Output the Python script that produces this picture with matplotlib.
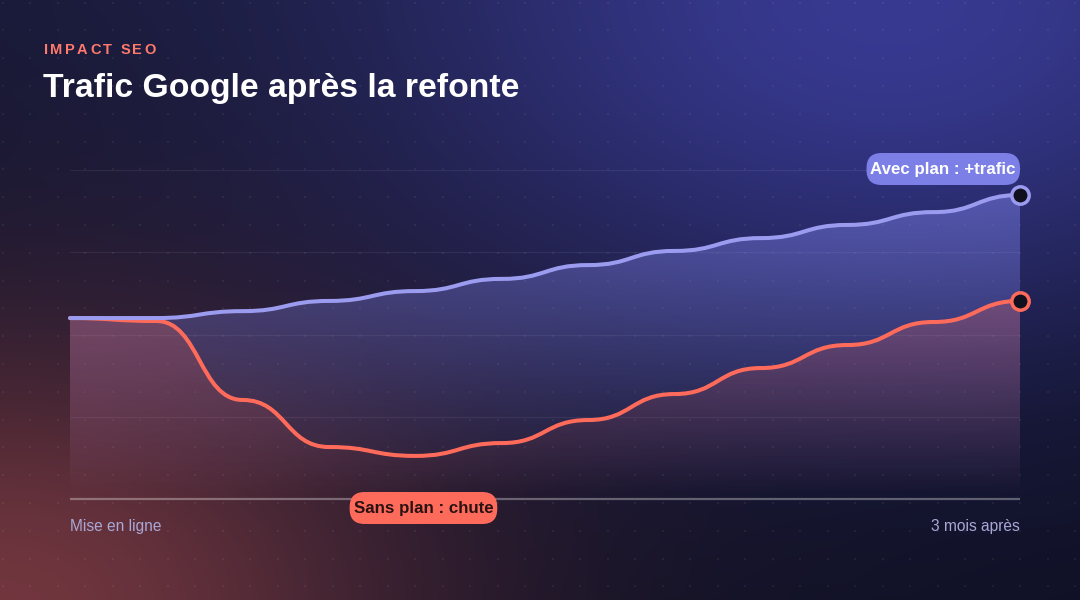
import numpy as np
import matplotlib
matplotlib.use("Agg")
import matplotlib.pyplot as plt
from matplotlib.path import Path
from matplotlib.patches import PathPatch, FancyBboxPatch

# ---------------- data ----------------
steps = list(range(12))
avec_plan = [55.0, 55.0, 57.1, 60.2, 63.2, 66.9, 71.1, 75.4, 79.3, 83.3, 87.2, 92.4]
sans_plan = [55.0, 54.1, 30.1, 15.8, 13.1, 17.0, 24.0, 31.9, 39.8, 46.8, 53.8, 60.2]
x_labels = ["Mise en ligne", "3 mois après"]
y_grid = [25, 50, 75, 100]
kicker = "IMPACT SEO"
title = "Trafic Google après la refonte"
label_avec = "Avec plan : +trafic"
label_sans = "Sans plan : chute"

# ---------------- style ----------------
W, H = 1080, 600
FONT = "Liberation Sans"
BLUE = "#9b9cf0"
BLUE_BOX = "#7b7fe6"
RED = "#ff6b5b"
LABEL_COL = "#a9a7d6"

plt.rcParams["font.family"] = [FONT, "DejaVu Sans"]

fig = plt.figure(figsize=(W / 100, H / 100), dpi=100)

# ---------------- background ----------------
bg_ax = fig.add_axes([0, 0, 1, 1])
yy, xx = np.mgrid[0:H, 0:W].astype(float)
base = np.array([15, 16, 34], float)
img = np.zeros((H, W, 3)) + base
# top brightening
img += np.array([9, 9, 20])[None, None, :] * np.clip(1 - yy / 420, 0, 1)[..., None]
# blue glow top-right
g1 = np.exp(-(((xx - 890) / 360) ** 2 + ((yy - 30) / 240) ** 2) / 2)
img += np.array([32, 33, 92])[None, None, :] * g1[..., None]
# red glow bottom-left
g2 = np.exp(-((xx / 300) ** 2 + ((yy - 610) / 200) ** 2) / 2)
img += np.array([98, 38, 28])[None, None, :] * g2[..., None]
img = np.clip(img / 255, 0, 1)
bg_ax.imshow(img, extent=[0, W, H, 0], aspect="auto", interpolation="bilinear")
# dot grid
dx = np.arange(2.5, W, 27.5)
dy = np.arange(2.5, H, 27.8)
DX, DY = np.meshgrid(dx, dy)
bg_ax.scatter(DX.ravel(), DY.ravel(), s=2.2, marker="s", color="white", alpha=0.06, linewidths=0)
bg_ax.set_xlim(0, W)
bg_ax.set_ylim(H, 0)
bg_ax.axis("off")

# ---------------- chart ----------------
L, R, T, B = 70, 1020, 170, 499
ax = fig.add_axes([L / W, (H - B) / H, (R - L) / W, (B - T) / H])
ax.patch.set_alpha(0)


def bump(xs, ys):
    verts = [(xs[0], ys[0])]
    codes = [Path.MOVETO]
    for i in range(1, len(xs)):
        xm = (xs[i - 1] + xs[i]) / 2
        verts += [(xm, ys[i - 1]), (xm, ys[i]), (xs[i], ys[i])]
        codes += [Path.CURVE4] * 3
    return verts, codes


def area(xs, ys):
    v, c = bump(xs, ys)
    v = v + [(xs[-1], 0), (xs[0], 0), (xs[0], ys[0])]
    c = c + [Path.LINETO, Path.LINETO, Path.CLOSEPOLY]
    return Path(v, c)


def grad_fill(path, color, amax, z):
    rgb = np.array(matplotlib.colors.to_rgb(color))
    g = np.zeros((256, 2, 4))
    g[..., :3] = rgb
    g[..., 3] = np.linspace(0.0, amax, 256)[:, None]
    im = ax.imshow(g, extent=[steps[0], steps[-1], 0, 100], origin="lower",
                   aspect="auto", interpolation="bilinear", zorder=z)
    clip = PathPatch(path, transform=ax.transData, facecolor="none", edgecolor="none")
    im.set_clip_path(clip)


# grid lines
for gy in y_grid:
    ax.plot([steps[0], steps[-1]], [gy, gy], color="white", alpha=0.07, lw=0.9, zorder=1)

grad_fill(area(steps, avec_plan), BLUE_BOX, 0.55, 2)
grad_fill(area(steps, sans_plan), RED, 0.42, 3)

# baseline
ax.plot([steps[0], steps[-1]], [0, 0], color="white", alpha=0.32, lw=1.6, zorder=4,
        clip_on=False, solid_capstyle="butt")

for ys, col, z in [(sans_plan, RED, 5), (avec_plan, BLUE, 6)]:
    v, c = bump(steps, ys)
    ax.add_patch(PathPatch(Path(v, c), facecolor="none", edgecolor=col, lw=2.9,
                           zorder=z, clip_on=False, capstyle="round"))
    ax.plot([steps[-1]], [ys[-1]], "o", ms=12.5, mfc="#10101f", mec=col, mew=2.5,
            zorder=8, clip_on=False)

ax.set_xlim(steps[0], steps[-1])
ax.set_ylim(0, 100)
ax.axis("off")

# ---------------- texts ----------------
def px(x, y):
    return x / W, 1 - y / H

renderer = fig.canvas.get_renderer()

# letter-spaced kicker
cx = 44
for ch in kicker:
    t = fig.text(*px(cx, 50.5), ch, color="#ff7a6b", fontsize=10.5, fontweight="bold",
                 ha="left", va="center")
    wdt = t.get_window_extent(renderer=renderer).width
    if ch == " ":
        wdt = 3.9
    cx += wdt + 2.3

fig.text(*px(43, 88), title, color="white", fontsize=24.3, fontweight="bold",
         ha="left", va="center")

fig.text(*px(L, 526), x_labels[0], color=LABEL_COL, fontsize=11.2, ha="left", va="center")
fig.text(*px(R, 526), x_labels[1], color=LABEL_COL, fontsize=11.2, ha="right", va="center")


def pill(text, anchor_px, ha, box_col, txt_col):
    x, y = anchor_px
    t = fig.text(*px(x, y), text, color=txt_col, fontsize=12.2, fontweight="bold",
                 ha=ha, va="center", zorder=11)
    bb = t.get_window_extent(renderer=renderer)
    hgt = 32
    wd = bb.width + 8
    cxm = (bb.x0 + bb.x1) / 2
    cy = H - y
    p = FancyBboxPatch((cxm - wd / 2, cy - hgt / 2), wd, hgt,
                       boxstyle="round,pad=0,rounding_size=15", transform=None,
                       facecolor=box_col, edgecolor="none", zorder=10)
    fig.add_artist(p)


# anchor labels to data points through the axes transform
def data_px(xv, yv):
    dx_, dy_ = ax.transData.transform((xv, yv))
    return dx_, H - dy_

ax_x, ax_y = data_px(steps[-1], 100)
pill(label_avec, (ax_x - 4, ax_y - 1), "right", BLUE_BOX, "white")
imin = int(np.argmin(sans_plan))
sx, sy = data_px(steps[imin], 0)
pill(label_sans, (sx + 8, sy + 9), "center", RED, "#2a1212")

fig.savefig("out.png", dpi=100)
